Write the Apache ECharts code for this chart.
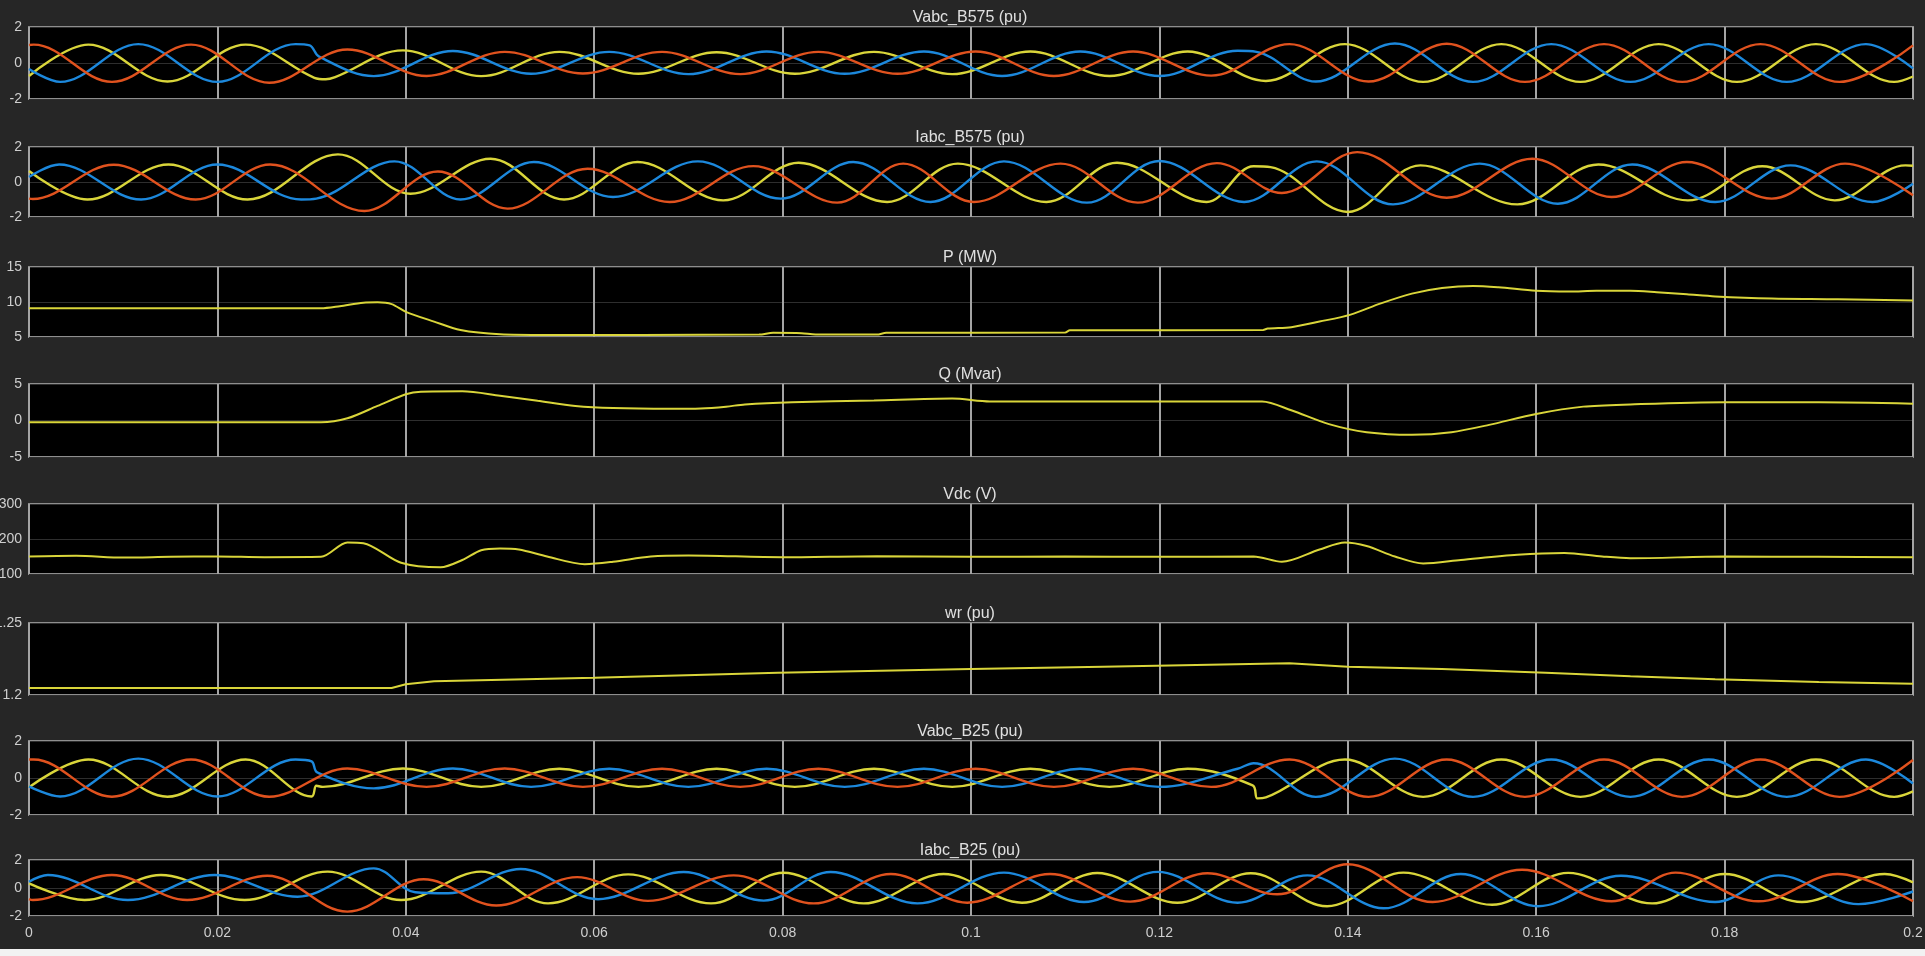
<!DOCTYPE html>
<html>
<head>
<meta charset="utf-8">
<title>DFIG scope</title>
<script src="https://cdn.jsdelivr.net/npm/echarts/dist/echarts.min.js"></script>
<style>
  html, body { margin: 0; padding: 0; background: #262626; }
  #scope { width: 1925px; height: 956px; }
</style>
</head>
<body>
<div id="scope"></div>
<script>
// panel titles and y tick ranges
var titles = ["Vabc_B575 (pu)", "Iabc_B575 (pu)", "P (MW)", "Q (Mvar)", "Vdc (V)", "wr (pu)", "Vabc_B25 (pu)", "Iabc_B25 (pu)"];
var yMin = [-2, -2, 5, -5, 1100, 1.2, -2, -2];
var yMax = [2, 2, 15, 5, 1300, 1.25, 2, 2];
var yStep = [2, 2, 5, 5, 100, 0.05, 2, 2];
var tMin = 0, tMax = 0.2, tStep = 0.02;

// Vabc_B575, points at each peak / trough [t, pu]
var vB575_a = [[0,1.0],[0.0005,1.02],[0.0088,-1.05],[0.0172,1.02],[0.0255,-1.1],[0.0338,0.75],[0.0422,-0.72],[0.0505,0.62],[0.0588,-0.58],[0.0672,0.62],[0.0755,-0.62],[0.0838,0.62],[0.0922,-0.6],[0.1005,0.64],[0.1088,-0.72],[0.1172,0.64],[0.1255,-0.7],[0.1338,1.05],[0.1422,-1.03],[0.1505,1.07],[0.1588,-1.05],[0.1672,1.05],[0.1755,-1.05],[0.1838,1.05],[0.1922,-1.05],[0.2,0.98]];
var vB575_b = [[0,-0.72],[0.0063,1.02],[0.0147,-1.03],[0.023,1.02],[0.0303,-0.82],[0.0315,-0.9],[0.0325,-0.78],[0.0397,0.7],[0.048,-0.73],[0.0563,0.62],[0.0647,-0.6],[0.073,0.6],[0.0813,-0.6],[0.0897,0.62],[0.098,-0.62],[0.1063,0.64],[0.1147,-0.72],[0.123,0.64],[0.1313,-1.0],[0.1397,1.05],[0.148,-1.05],[0.1563,1.05],[0.1647,-1.05],[0.173,1.05],[0.1813,-1.05],[0.1897,1.05],[0.198,-1.05],[0.2,-0.75]];
var vB575_c = [[0,-0.33],[0.0033,-1.05],[0.0116,1.05],[0.02,-1.05],[0.0283,1.05],[0.0298,0.98],[0.0308,0.35],[0.0366,-0.73],[0.045,0.67],[0.0533,-0.6],[0.0616,0.62],[0.07,-0.62],[0.0783,0.64],[0.0866,-0.6],[0.095,0.64],[0.1033,-0.72],[0.1116,0.64],[0.12,-0.72],[0.1283,0.68],[0.1303,0.62],[0.1366,-1.03],[0.145,1.08],[0.1533,-1.05],[0.1616,1.05],[0.17,-1.05],[0.1783,1.05],[0.1866,-1.05],[0.195,1.05],[0.2,-0.3]];

// Iabc_B575
var iB575_a = [[0,-0.95],[0.0004,-0.97],[0.009,0.99],[0.0177,-1.0],[0.0256,1.0],[0.0356,-1.66],[0.0434,0.6],[0.0508,-1.52],[0.0593,0.76],[0.068,-1.14],[0.0769,0.91],[0.0858,-1.18],[0.0928,1.05],[0.1003,-1.14],[0.1095,1.05],[0.1177,-1.18],[0.1261,1.08],[0.133,-0.63],[0.141,1.71],[0.1505,-0.9],[0.1596,1.33],[0.168,-0.86],[0.176,1.14],[0.185,-0.95],[0.1928,1.05],[0.2,-0.76]];
var iB575_b = [[0,0.63],[0.0062,-1.0],[0.0148,1.0],[0.0232,-1.0],[0.0328,1.58],[0.0405,-0.67],[0.049,1.33],[0.0568,-1.0],[0.0646,1.14],[0.0737,-1.05],[0.0817,1.1],[0.0911,-1.14],[0.0986,1.05],[0.108,-1.14],[0.1155,1.1],[0.125,-1.14],[0.13,0.9],[0.1318,0.85],[0.14,-1.71],[0.1477,0.95],[0.158,-1.28],[0.1666,1.0],[0.1761,-1.05],[0.184,0.9],[0.1917,-1.05],[0.1992,0.95],[0.2,0.93]];
var iB575_c = [[0,0.29],[0.0032,1.0],[0.0119,-1.0],[0.02,1.0],[0.0289,-1.0],[0.0305,-0.95],[0.0388,1.18],[0.0458,-1.0],[0.0536,1.14],[0.062,-0.86],[0.071,1.18],[0.0798,-0.95],[0.0875,1.14],[0.0957,-1.14],[0.1035,1.18],[0.1123,-1.18],[0.12,1.2],[0.129,-1.14],[0.1367,1.18],[0.1448,-1.28],[0.154,1.05],[0.1623,-1.24],[0.1702,1.0],[0.179,-1.14],[0.187,0.95],[0.1957,-1.14],[0.2,-0.1]];

// P (MW)
var pMW = [[0,9.1],[0.031,9.1],[0.033,9.4],[0.0355,9.9],[0.037,9.95],[0.0385,9.7],[0.04,8.6],[0.043,7.2],[0.0458,6.0],[0.05,5.4],[0.055,5.3],[0.065,5.3],[0.0775,5.35],[0.079,5.6],[0.082,5.55],[0.0835,5.35],[0.09,5.35],[0.091,5.6],[0.11,5.65],[0.1105,5.95],[0.131,6.0],[0.1315,6.2],[0.134,6.4],[0.137,7.2],[0.1403,8.2],[0.1435,9.8],[0.1468,11.2],[0.15,12.0],[0.1533,12.3],[0.156,12.1],[0.16,11.6],[0.1635,11.5],[0.1664,11.6],[0.17,11.6],[0.1728,11.4],[0.176,11.1],[0.179,10.8],[0.185,10.5],[0.192,10.4],[0.2,10.2]];

// Q (Mvar)
var qMvar = [[0,-0.25],[0.031,-0.25],[0.0338,0.3],[0.037,2.0],[0.04,3.6],[0.0416,3.95],[0.046,4.0],[0.05,3.4],[0.054,2.7],[0.058,2.0],[0.062,1.7],[0.068,1.6],[0.0713,1.65],[0.074,1.9],[0.076,2.2],[0.081,2.5],[0.0897,2.75],[0.098,3.0],[0.102,2.6],[0.1309,2.6],[0.134,1.4],[0.138,-0.5],[0.142,-1.6],[0.1468,-1.95],[0.151,-1.6],[0.155,-0.6],[0.16,0.9],[0.165,1.9],[0.17,2.2],[0.18,2.5],[0.19,2.5],[0.2,2.3]];

// Vdc (V)
var vdc = [[0,1150],[0.005,1152],[0.01,1147],[0.015,1149],[0.02,1150],[0.025,1148],[0.031,1149],[0.0338,1190],[0.0355,1188],[0.0395,1132],[0.0437,1119],[0.046,1140],[0.048,1168],[0.05,1173],[0.052,1170],[0.055,1150],[0.059,1128],[0.062,1135],[0.066,1150],[0.07,1153],[0.08,1148],[0.09,1151],[0.1,1149],[0.11,1150],[0.12,1149],[0.13,1150],[0.133,1135],[0.137,1170],[0.1397,1190],[0.142,1180],[0.145,1150],[0.148,1130],[0.152,1140],[0.158,1155],[0.163,1160],[0.167,1150],[0.17,1145],[0.18,1150],[0.19,1149],[0.2,1148]];

// wr (pu)
var wr = [[0,1.2048],[0.0385,1.2048],[0.04,1.2075],[0.043,1.2096],[0.06,1.212],[0.0795,1.2154],[0.1,1.218],[0.114,1.2197],[0.1338,1.222],[0.14,1.2197],[0.15,1.218],[0.161,1.2154],[0.17,1.213],[0.179,1.211],[0.19,1.209],[0.2,1.2078]];

// Vabc_B25
var vB25_a = [[0,1.0],[0.0005,1.0],[0.0088,-1.01],[0.0172,1.0],[0.0255,-1.01],[0.0338,0.51],[0.0422,-0.48],[0.0505,0.51],[0.0588,-0.48],[0.0672,0.5],[0.0755,-0.48],[0.0838,0.5],[0.0922,-0.48],[0.1005,0.5],[0.1088,-0.48],[0.1172,0.5],[0.1255,-0.48],[0.1338,1.0],[0.1422,-1.02],[0.1505,1.0],[0.1588,-1.02],[0.1672,1.0],[0.1755,-1.02],[0.1838,1.0],[0.1922,-1.02],[0.2,0.97]];
var vB25_b = [[0,-0.5],[0.0063,1.0],[0.0147,-1.01],[0.023,1.0],[0.03,-1.0],[0.0305,-0.42],[0.0312,-0.48],[0.0397,0.51],[0.048,-0.48],[0.0563,0.5],[0.0647,-0.48],[0.073,0.5],[0.0813,-0.48],[0.0897,0.5],[0.098,-0.48],[0.1063,0.5],[0.1147,-0.48],[0.123,0.5],[0.1299,-0.4],[0.1304,-1.1],[0.1313,-1.05],[0.1397,1.0],[0.148,-1.02],[0.1563,1.0],[0.1647,-1.02],[0.173,1.0],[0.1813,-1.02],[0.1897,1.0],[0.198,-1.02],[0.2,-0.72]];
var vB25_c = [[0,-0.45],[0.0033,-1.0],[0.0116,1.05],[0.02,-1.0],[0.0283,1.0],[0.03,0.9],[0.0306,0.3],[0.0366,-0.56],[0.045,0.51],[0.0533,-0.48],[0.0616,0.5],[0.07,-0.48],[0.0783,0.5],[0.0866,-0.48],[0.095,0.5],[0.1033,-0.48],[0.1116,0.5],[0.12,-0.48],[0.1283,0.5],[0.13,0.8],[0.1366,-1.02],[0.145,1.05],[0.1533,-1.02],[0.1616,1.0],[0.17,-1.02],[0.1783,1.0],[0.1866,-1.02],[0.195,1.0],[0.2,-0.3]];

// Iabc_B25
var iB25_a = [[0,-0.79],[0.0004,-0.86],[0.0088,0.93],[0.0168,-0.86],[0.0253,0.88],[0.0338,-1.69],[0.0419,0.62],[0.0496,-1.25],[0.0582,0.78],[0.0657,-0.92],[0.0748,0.9],[0.0833,-1.1],[0.0915,1.0],[0.0996,-1.05],[0.1084,1.0],[0.1169,-0.97],[0.1251,1.05],[0.1325,-0.45],[0.14,1.7],[0.149,-1.0],[0.1585,1.3],[0.168,-0.95],[0.1748,1.1],[0.1836,-0.95],[0.192,1.0],[0.2,-0.95]];
var iB25_b = [[0,0.33],[0.0059,-0.86],[0.014,0.93],[0.0229,-0.86],[0.0317,1.17],[0.0395,-0.86],[0.048,1.17],[0.0551,-1.1],[0.0636,0.97],[0.0724,-1.1],[0.0801,1.09],[0.0886,-1.1],[0.0971,1.0],[0.1054,-1.05],[0.1134,1.07],[0.1219,-1.05],[0.1297,1.05],[0.1378,-1.3],[0.1459,1.1],[0.1553,-1.2],[0.1634,1.08],[0.1723,-1.1],[0.18,1.0],[0.1882,-1.0],[0.197,1.0],[0.2,0.4]];
var iB25_c = [[0,0.45],[0.002,0.93],[0.0105,-0.86],[0.0197,0.93],[0.0285,-0.62],[0.0366,1.4],[0.041,-0.3],[0.0445,-0.38],[0.0522,1.36],[0.0604,-0.8],[0.0695,1.14],[0.078,-0.9],[0.0851,1.14],[0.0943,-1.1],[0.1035,1.1],[0.112,-1.0],[0.1198,1.15],[0.1283,-1.05],[0.1357,0.9],[0.1438,-1.45],[0.152,1.0],[0.1602,-1.3],[0.169,0.87],[0.179,-1.0],[0.1857,0.9],[0.1942,-1.15],[0.2,-0.25]];

var YELLOW = "#d9d53a", BLUE = "#1c88dc", RED = "#e0521e";

// signals of each panel: [data, colour]
var panels = [
  [[vB575_b, YELLOW], [vB575_c, BLUE], [vB575_a, RED]],
  [[iB575_b, YELLOW], [iB575_c, BLUE], [iB575_a, RED]],
  [[pMW, YELLOW]],
  [[qMvar, YELLOW]],
  [[vdc, YELLOW]],
  [[wr, YELLOW]],
  [[vB25_b, YELLOW], [vB25_c, BLUE], [vB25_a, RED]],
  [[iB25_b, YELLOW], [iB25_c, BLUE], [iB25_a, RED]]
];

var chart = echarts.init(document.getElementById("scope"));

var tops = [27, 147, 267, 384, 504, 623, 741, 860];
var heights = [72, 70, 70, 73, 70, 72, 74, 56];

var grids = [], xAxes = [], yAxes = [], series = [], heads = [];
for (var i = 0; i < 8; i++) {
  var last = i === 7;
  grids.push({
    left: 29, right: 12, top: tops[i], height: heights[i],
    containLabel: false, outerBoundsMode: "none",
    show: true, backgroundColor: "#000", borderColor: "#8e8e8e", borderWidth: 2
  });
  xAxes.push({
    type: "value", gridIndex: i, min: tMin, max: tMax, interval: tStep,
    axisLine: { show: false }, axisTick: { show: false },
    axisLabel: { show: last, color: "#cfcfcf", fontSize: 14, margin: 10, fontFamily: "Liberation Sans" },
    splitLine: { show: true, lineStyle: { color: "#a4a4a4", width: 2 } }
  });
  yAxes.push({
    type: "value", gridIndex: i, min: yMin[i], max: yMax[i], interval: yStep[i],
    axisLine: { show: false }, axisTick: { show: false },
    axisLabel: {
      color: "#cfcfcf", fontSize: 14, margin: 7, fontFamily: "Liberation Sans",
      formatter: function (v) { return String(+v.toFixed(4)); }
    },
    splitLine: { show: true, lineStyle: { color: "#2e2e2e", width: 1 } }
  });
  heads.push({
    text: titles[i], left: 965, top: tops[i] - 22, textAlign: "center",
    textStyle: { color: "#e0e0e0", fontSize: 16, fontWeight: "normal", fontFamily: "Liberation Sans" }
  });
  panels[i].forEach(function (sig) {
    var wave = panels[i].length > 1;
    series.push({
      type: "line", xAxisIndex: i, yAxisIndex: i, data: sig[0],
      showSymbol: false, smooth: i === 5 ? false : (wave ? 0.36 : 0.3),
      lineStyle: { color: sig[1], width: wave ? 2.4 : 2 },
      itemStyle: { color: sig[1] }
    });
  });
}

chart.setOption({
  backgroundColor: "#262626",
  animation: false,
  title: heads,
  grid: grids,
  xAxis: xAxes,
  yAxis: yAxes,
  series: series,
  graphic: [{ type: "rect", left: 0, top: 949, shape: { width: 1925, height: 7 }, style: { fill: "#f2f2f2" } }]
});
</script>
</body>
</html>
